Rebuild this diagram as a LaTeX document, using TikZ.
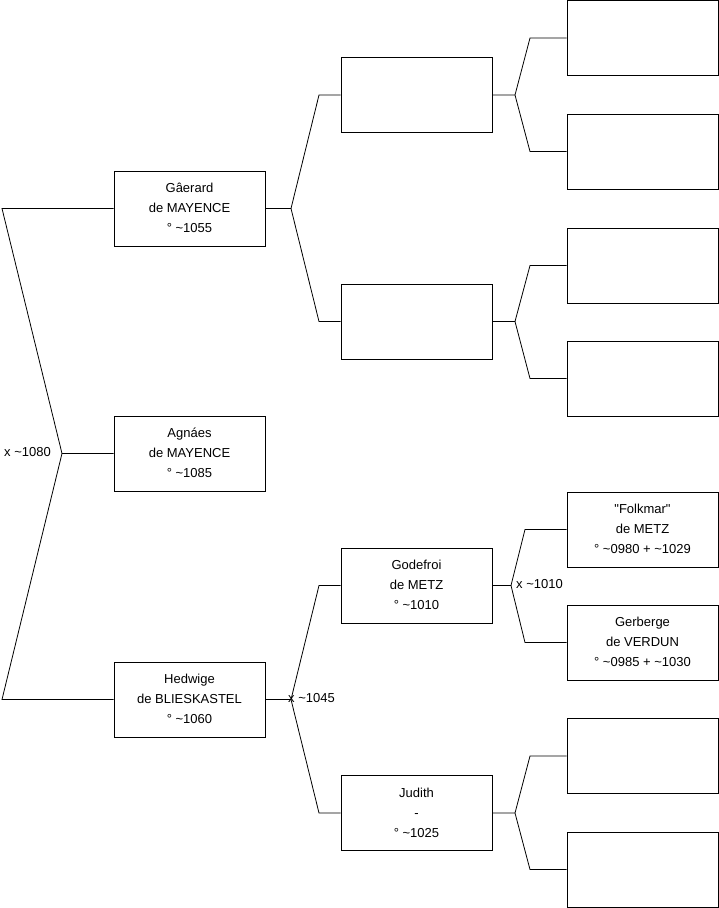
\documentclass[tikz,border=0pt]{standalone}
\usepackage{fontspec}
\setmainfont{Liberation Sans}[Ligatures=TeXOff]
\newcommand{\plines}[1]{\raisebox{1.5pt}{\begin{tabular}{@{}c@{}}#1\end{tabular}}}
\begin{document}
\begin{tikzpicture}[x=1pt,y=-1pt,
  person/.style={draw=black,line width=0.9pt,minimum width=151pt,minimum height=75pt,inner sep=0pt,align=center,font=\fontsize{13}{20}\selectfont},
  link/.style={draw=black,line width=0.8pt},
  lbl/.style={inner sep=0pt,font=\fontsize{13}{15}\selectfont}]
\useasboundingbox (0,0) rectangle (719,908);
% level 1
\node[person] (g) at (189.5,208.5) {\plines{Gâerard\\de MAYENCE\\° \textasciitilde1055}};
\node[person] (a) at (189.5,453.5) {\plines{Agnáes\\de MAYENCE\\° \textasciitilde1085}};
\node[person] (h) at (189.5,699.5) {\plines{Hedwige\\de BLIESKASTEL\\° \textasciitilde1060}};
% level 2
\node[person] (ga) at (416.5,95) {};
\node[person] (gb) at (416.5,321.5) {};
\node[person] (gf) at (416.5,585.5) {\plines{Godefroi\\de METZ\\° \textasciitilde1010}};
\node[person] (ju) at (416.5,813) {\plines{Judith\\-\\° \textasciitilde1025}};
% level 3
\node[person] (p1) at (642.5,38) {};
\node[person] (p2) at (642.5,151.5) {};
\node[person] (p3) at (642.5,265.5) {};
\node[person] (p4) at (642.5,378.5) {};
\node[person] (fo) at (642.5,529.5) {\plines{"Folkmar"\\de METZ\\° \textasciitilde0980 + \textasciitilde1029}};
\node[person] (ge) at (642.5,642.5) {\plines{Gerberge\\de VERDUN\\° \textasciitilde0985 + \textasciitilde1030}};
\node[person] (p7) at (642.5,756) {};
\node[person] (p8) at (642.5,869.5) {};
% joints
\coordinate (j0) at (62,453.5);
\coordinate (j1) at (291,208.5);
\coordinate (j2) at (291,699.5);
\coordinate (j3) at (515,95);
\coordinate (j4) at (515,321.5);
\coordinate (j5) at (511,585.5);
\coordinate (j6) at (515,813);
% root
\draw[link] (g.west) -- (2,208.5) -- (j0) -- (a.west);
\draw[link] (h.west) -- (2,699.5) -- (j0);
\node[lbl,anchor=east] (l0) at (51,452) {x \textasciitilde1080};
% Gerard parents
\draw[link] (g.east) -- (j1) -- (319,95) -- (ga.west);
\draw[link] (j1) -- (319,321.5) -- (gb.west);
% Hedwige parents
\draw[link] (h.east) -- (j2) -- (319,585.5) -- (gf.west);
\draw[link] (j2) -- (319,813) -- (ju.west);
\node[lbl,anchor=west] (l1) at (288,698) {x \textasciitilde1045};
% level 3 links
\draw[link] (ga.east) -- (j3) -- (530,38) -- (p1.west);
\draw[link] (j3) -- (530,151.5) -- (p2.west);
\draw[link] (gb.east) -- (j4) -- (530,265.5) -- (p3.west);
\draw[link] (j4) -- (530,378.5) -- (p4.west);
\draw[link] (gf.east) -- (j5) -- (525,529.5) -- (fo.west);
\draw[link] (j5) -- (525,642.5) -- (ge.west);
\node[lbl,anchor=west] (l2) at (516,584) {x \textasciitilde1010};
\draw[link] (ju.east) -- (j6) -- (530,756) -- (p7.west);
\draw[link] (j6) -- (530,869.5) -- (p8.west);
\end{tikzpicture}
\end{document}
